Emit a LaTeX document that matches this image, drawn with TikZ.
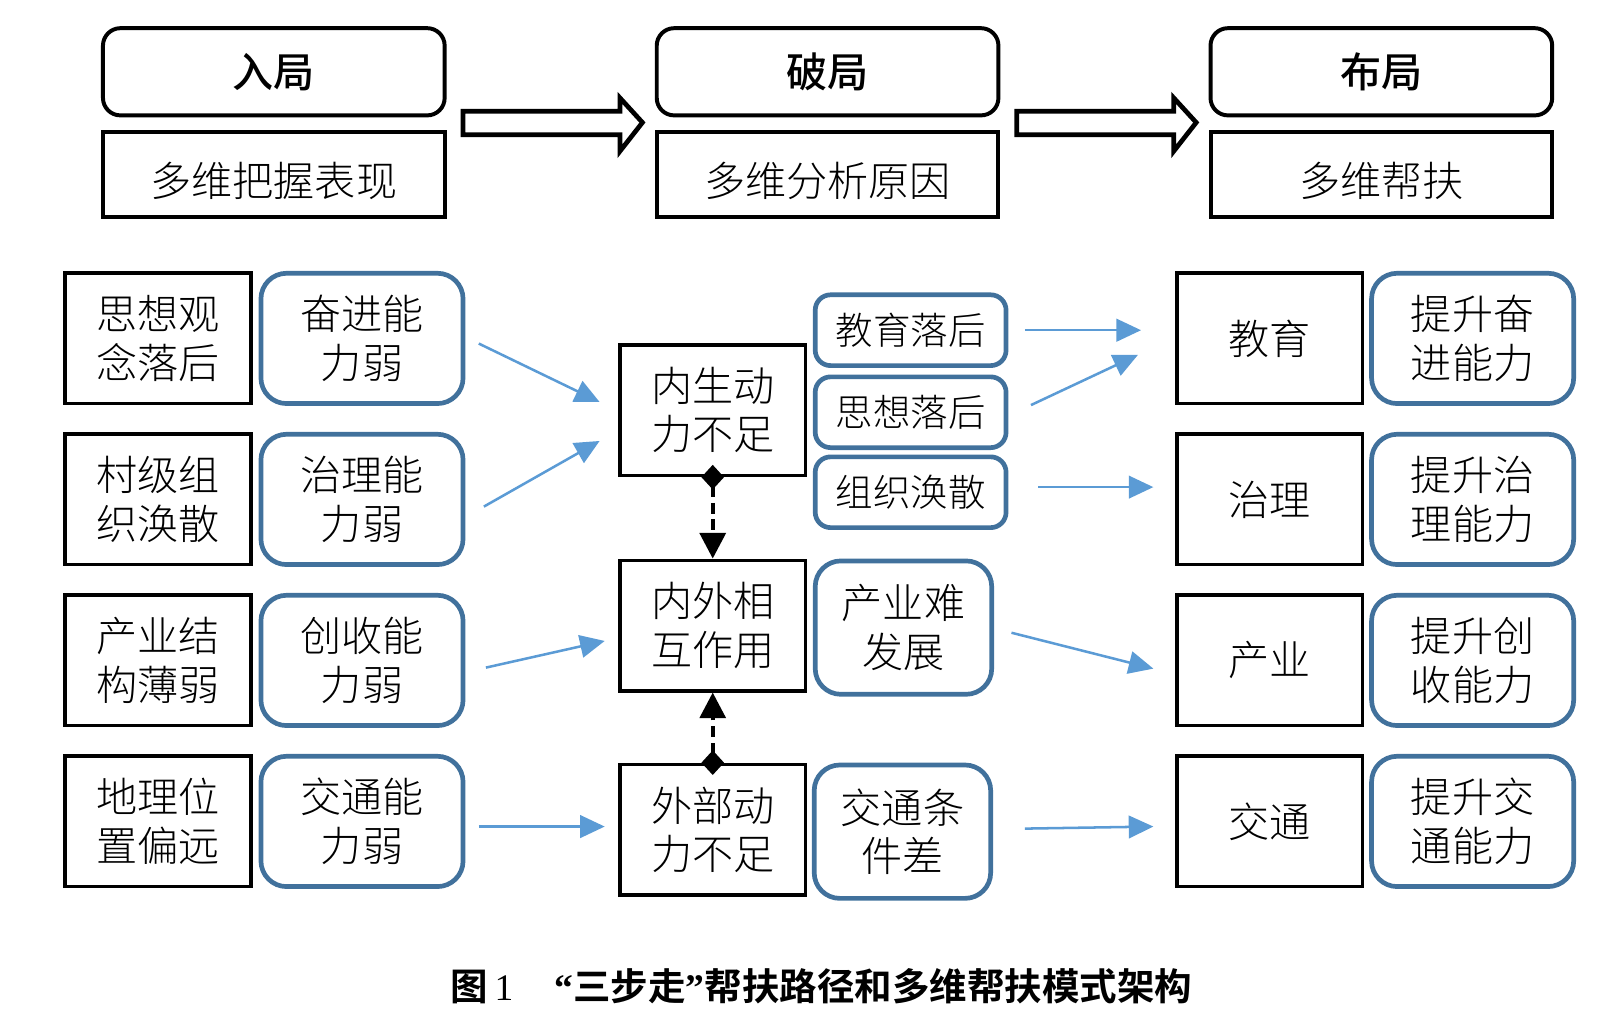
\documentclass[tikz,border=0pt]{standalone}
\usepackage{fontspec}
\usepackage{xcolor}
\setmainfont{Liberation Serif}
\newfontfamily\cjklight{Noto Sans CJK SC Light}
\newfontfamily\cjkmed{Noto Sans CJK SC Medium}
\newfontfamily\cjkbold{Noto Sans CJK SC Bold}
\usetikzlibrary{arrows.meta,calc}
\definecolor{boxblue}{HTML}{41719C}
\definecolor{arrowblue}{HTML}{5B9BD5}

\begin{document}
\begin{tikzpicture}[x=0.01cm,y=-0.01cm,
  headbox/.style={draw,line width=1.1pt,rounded corners=0.17cm,minimum width=3.33cm,minimum height=0.85cm,inner sep=0pt,font=\cjkmed\fontsize{11.4}{13}\selectfont},
  subbox/.style={draw,line width=1.1pt,minimum width=3.33cm,minimum height=0.83cm,inner sep=0pt,text height=0.54cm,text depth=0.1cm,font=\cjklight\fontsize{11.4}{13}\selectfont},
  blackbox/.style={draw,line width=1pt,minimum width=1.81cm,minimum height=1.27cm,inner sep=0pt,align=center,font=\cjklight\fontsize{11.4}{13.4}\selectfont},
  bluebox/.style={draw=boxblue,line width=1.3pt,rounded corners=0.25cm,minimum width=1.97cm,minimum height=1.27cm,inner sep=0pt,align=center,font=\cjklight\fontsize{11.4}{13.4}\selectfont},
  smallblue/.style={bluebox,rounded corners=0.15cm,minimum width=1.86cm,minimum height=0.69cm,font=\cjklight\fontsize{10.4}{12}\selectfont},
  midblue/.style={bluebox,minimum width=1.72cm,minimum height=1.30cm},
  bluearrow/.style={draw=arrowblue,line width=0.7pt,-{Triangle[length=0.24cm,width=0.22cm,fill=arrowblue]}},
  dasharrow/.style={line width=1.2pt,dash pattern=on 3pt off 1.6pt,{Diamond[length=0.24cm,width=0.22cm,sep=-0.12cm]}-{Triangle[length=0.25cm,width=0.25cm]}},
  hollow/.style={draw,line width=1.3pt,fill=white}]
\useasboundingbox (0,0) rectangle (1568,1002.4);

% header row
\node[headbox] (ru) at (267,70) {入局};
\node[subbox] (rusub) at (267,170) {多维把握表现};
\node[headbox] (po) at (807,70) {破局};
\node[subbox] (posub) at (807,170) {多维分析原因};
\node[headbox] (bu) at (1347,70) {布局};
\node[subbox] (busub) at (1347,170) {多维帮扶};

\foreach \from/\to in {ru/po,po/bu}
  {\draw[hollow] ($(\from.south east)+(16,-6)$) -- ++(153,0) -- ++(0,-13) -- ($(\to.south west)+(-12,5)$)
     -- ($(\from.south east)+(169,33)$) -- ++(0,-16) -- ++(-153,0) -- cycle;}

% left column
\foreach \nm/\yy/\txta/\txtb in {1/330/{思想观\\念落后}/{奋进能\\力弱},2/487/{村级组\\织涣散}/{治理能\\力弱},3/644/{产业结\\构薄弱}/{创收能\\力弱},4/801/{地理位\\置偏远}/{交通能\\力弱}}
  {\node[blackbox] (l\nm) at (154,\yy) {\txta};
   \node[bluebox] (lb\nm) at (353,\yy) {\txtb};}

% middle column
\node[blackbox] (inner) at (695,400) {内生动\\力不足};
\node[blackbox] (mutual) at (695,610) {内外相\\互作用};
\node[blackbox] (outer) at (695,809) {外部动\\力不足};
\node[smallblue] (edu) at (888,322) {教育落后};
\node[smallblue] (idea) at (888,402) {思想落后};
\node[smallblue] (org) at (888,480) {组织涣散};
\node[midblue] (ind) at (881,612) {产业难\\发展};
\node[midblue] (traf) at (880,811) {交通条\\件差};

\draw[dasharrow] (inner.south) -- (mutual.north);
\draw[dasharrow] (outer.north) -- (mutual.south);

% right column
\foreach \nm/\yy/\txta/\txtb in {1/330/教育/{提升奋\\进能力},2/487/治理/{提升治\\理能力},3/644/产业/{提升创\\收能力},4/801/交通/{提升交\\通能力}}
  {\node[blackbox] (r\nm) at (1238,\yy) {\txta};
   \node[bluebox] (rb\nm) at (1436,\yy) {\txtb};}

% blue arrows
\draw[bluearrow] ($(lb1.east)+(13,5)$) -- ($(inner.west)+(-18,-8)$);
\draw[bluearrow] ($(lb2.east)+(18,7)$) -- ($(inner.west)+(-18,30)$);
\draw[bluearrow] ($(lb3.east)+(20,7)$) -- ($(mutual.west)+(-13,15)$);
\draw[bluearrow] ($(lb4.east)+(13,5)$) -- ($(outer.west)+(-13,-3)$);
\draw[bluearrow] ($(edu.east)+(16,0)$) -- ($(r1.west)+(-33,-8)$);
\draw[bluearrow] ($(idea.east)+(22,-7)$) -- ($(r1.west)+(-36,16)$);
\draw[bluearrow] ($(org.east)+(29,-5)$) -- ($(r2.west)+(-21,-12)$);
\draw[bluearrow] ($(ind.east)+(17,5)$) -- ($(r3.west)+(-21,8)$);
\draw[bluearrow] ($(traf.east)+(31,-3)$) -- ($(r4.west)+(-21,5)$);

\node[font=\cjkbold\fontsize{10.4}{12}\selectfont] (caption) at (801,962) {图\,{\rmfamily\mdseries 1}\hspace{1.1em}{\rmfamily\bfseries “}三步走{\rmfamily\bfseries ”}帮扶路径和多维帮扶模式架构};
\end{tikzpicture}
\end{document}
